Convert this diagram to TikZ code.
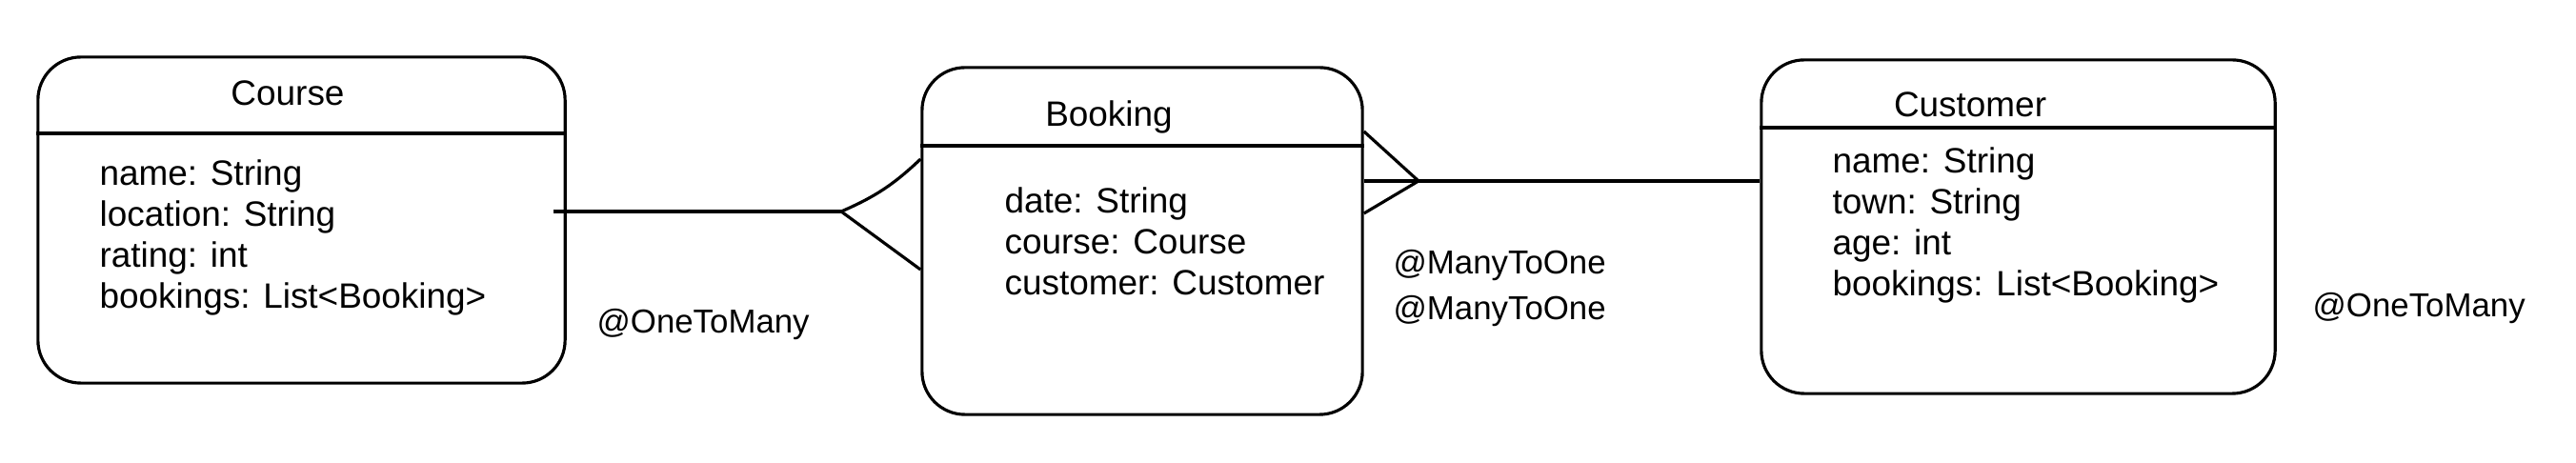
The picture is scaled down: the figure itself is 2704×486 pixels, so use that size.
\documentclass[tikz,border=0pt]{standalone}
\usepackage{fontspec}
\setmainfont{Liberation Sans}
\begin{document}
\begin{tikzpicture}[x=0.01cm,y=-0.01cm,line width=0.9pt,font=\fontsize{10.5}{12.2}\selectfont,
  entity/.style={draw,rounded corners=0.45cm,inner sep=0},
  attrs/.style={anchor=north west,align=left,inner sep=0},
  title/.style={anchor=base,inner sep=0},
  note/.style={anchor=base west,inner sep=0,font=\fontsize{9.9}{12}\selectfont}]
\useasboundingbox (0,0) rectangle (2704,486);
\node[entity,minimum width=5.53cm,minimum height=3.42cm] (course) at (316.5,231) {};
\node[entity,minimum width=4.62cm,minimum height=3.64cm] (booking) at (1199,253) {};
\node[entity,minimum width=5.39cm,minimum height=3.50cm] (customer) at (2118.5,238) {};
\draw (course.west |- 0,140) -- (course.east |- 0,140);
\draw (booking.west |- 0,153) -- (booking.east |- 0,153);
\draw (customer.west |- 0,134) -- (customer.east |- 0,134);
\node[title] (coursetitle) at (302,111) {Course};
\node[title] (bookingtitle) at (1164,133) {Booking};
\node[title] (customertitle) at (2068,123) {Customer};
\node[attrs] (courseattrs) at (103,166) {name: String\\location: String\\rating: int\\bookings: List<Booking>};
\node[attrs] (bookingattrs) at (1053,195) {date: String\\course: Course\\customer: Customer};
\node[attrs] (customerattrs) at (1922,153) {name: String\\town: String\\age: int\\bookings: List<Booking>};
\node[note] (courserel) at (625,350) {@OneToMany};
\node[note] (bookingrela) at (1461,288) {@ManyToOne};
\node[note] (bookingrelb) at (1461,336) {@ManyToOne};
\node[note] (customerrel) at (2426,333) {@OneToMany};
\coordinate (cbfoot) at (883,222);
\coordinate (bcfoot) at (1489,190);
\draw ([xshift=-0.14cm]course.east |- cbfoot) -- (cbfoot);
\draw (cbfoot) to[bend right=10] (booking.west |- 0,167);
\draw (cbfoot) -- (booking.west |- 0,283);
\draw (booking.east |- bcfoot) -- (customer.west |- bcfoot);
\draw (bcfoot) -- (booking.east |- 0,138);
\draw (bcfoot) -- (booking.east |- 0,224);
\end{tikzpicture}
\end{document}
